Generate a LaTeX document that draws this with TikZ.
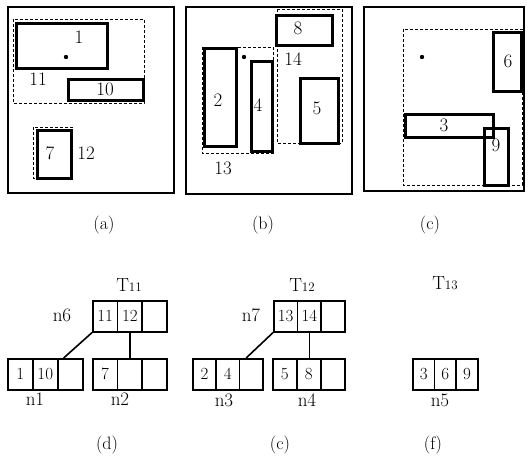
\documentclass[tikz,border=0pt]{standalone}
\usetikzlibrary{calc}
\begin{document}
\begin{tikzpicture}[x=1pt,y=-1pt,
  frame/.style={line width=2.6pt},
  obj/.style={line width=3pt},
  mbr/.style={line width=1pt,dash pattern=on 3pt off 2pt},
  lbl/.style={font=\fontsize{19}{21}\selectfont, inner sep=0pt},
  captxt/.style={font=\fontsize{18}{20}\selectfont, inner sep=0pt},
  cell/.style={draw, line width=1.6pt, minimum height=31pt, inner sep=0pt,
    font=\fontsize{17}{19}\selectfont, anchor=north west},
  conn/.style={line width=1.6pt},
  dot/.style={fill=black}]
\useasboundingbox (0,0) rectangle (528,456);

% ---------- panel (a)
\draw[frame] (8,7) rectangle (174,193);
\draw[mbr] (13,19) rectangle (144,103);
\draw[obj] (16,23) rectangle (107,68);
\draw[obj] (68,79) rectangle (143,100);
\draw[mbr] (33,127) rectangle (72,178);
\draw[obj] (37,130) rectangle (71,178);
\fill[dot] (66,57) circle (2.2pt);
\node[lbl] (l1) at (79,37) {1};
\node[lbl] (l11) at (38,79) {11};
\node[lbl] (l10) at (105,89) {10};
\node[lbl] (l7) at (50,153) {7};
\node[lbl] (l12) at (86,153) {12};
\node[captxt] (ca) at (104,225) {(a)};

% ---------- panel (b)
\draw[frame] (186,7) rectangle (352,194);
\draw[mbr] (277,9) rectangle (342,143);
\draw[mbr] (202,47) rectangle (273,153);
\draw[obj] (276,15) rectangle (332,45);
\draw[obj] (204,48) rectangle (236,146);
\draw[obj] (251,61) rectangle (272,151);
\draw[obj] (300,78) rectangle (338,143);
\fill[dot] (244,57) circle (2.2pt);
\node[lbl] (l8) at (298,28) {8};
\node[lbl] (l14) at (293,59) {14};
\node[lbl] (l2) at (218,100) {2};
\node[lbl] (l4) at (258,105) {4};
\node[lbl] (l5) at (317,108) {5};
\node[lbl] (l13) at (223,168) {13};
\node[captxt] (cb) at (263,225) {(b)};

% ---------- panel (c)
\draw[frame] (364,7) rectangle (524,191);
\draw[mbr] (403,29) rectangle (522,185);
\draw[obj] (493,32) rectangle (521,91);
\draw[obj] (405,114) rectangle (493,137);
\draw[obj] (484,128) rectangle (508,185);
\fill[dot] (422,57) circle (2.2pt);
\node[lbl] (l6) at (508,61) {6};
\node[lbl] (l3) at (444,125) {3};
\node[lbl] (l9) at (496,145) {9};
\node[captxt] (cc) at (430,225) {(c)};

% ---------- panel (d)
\node[lbl] (t11) at (129,285) {T{\fontsize{13}{15}\selectfont 11}};
\node[lbl] (ln6) at (62,315) {n6};
\node[cell, minimum width=24.7pt] (n6a) at (92,300) {11};
\node[cell, minimum width=24.7pt] (n6b) at (116.7,300) {12};
\node[cell, minimum width=24.7pt] (n6c) at (141.3,300) {};
\node[cell, minimum width=25pt] (n1a) at (7,358) {1};
\node[cell, minimum width=25pt] (n1b) at (32,358) {10};
\node[cell, minimum width=25pt] (n1c) at (57,358) {};
\node[cell, minimum width=24.7pt] (n2a) at (92,358) {7};
\node[cell, minimum width=24.7pt] (n2b) at (116.7,358) {};
\node[cell, minimum width=24.7pt] (n2c) at (141.3,358) {};
\draw[conn] (n6a.south west) -- ($(n1c.north west)!0.25!(n1c.north east)$);
\draw[conn] (n6b.south) -- (n6b.south |- n2b.north);
\node[lbl] (ln1) at (35,399) {n1};
\node[lbl] (ln2) at (120,399) {n2};
\node[captxt] (cd) at (107,445) {(d)};

% ---------- panel (e)
\node[lbl] (t12) at (302,285) {T{\fontsize{13}{15}\selectfont 12}};
\node[lbl] (ln7) at (251,315) {n7};
\node[cell, minimum width=23.7pt] (n7a) at (273,300) {13};
\node[cell, minimum width=23.7pt] (n7b) at (296.7,300) {14};
\node[cell, minimum width=23.7pt] (n7c) at (320.3,300) {};
\node[cell, minimum width=23.3pt] (n3a) at (192,358) {2};
\node[cell, minimum width=23.3pt] (n3b) at (215.3,358) {4};
\node[cell, minimum width=23.3pt] (n3c) at (238.7,358) {};
\node[cell, minimum width=24pt] (n4a) at (272,358) {5};
\node[cell, minimum width=24pt] (n4b) at (296,358) {8};
\node[cell, minimum width=24pt] (n4c) at (320,358) {};
\draw[conn] (n7a.south west) -- ($(n3c.north west)!0.3!(n3c.north east)$);
\draw[conn] (n7b.south) -- (n7b.south |- n4b.north);
\node[lbl] (ln3) at (224,400) {n3};
\node[lbl] (ln4) at (307,400) {n4};
\node[captxt] (ce) at (280,445) {(c)};

% ---------- panel (f)
\node[lbl] (t13) at (445,283) {T{\fontsize{13}{15}\selectfont 13}};
\node[cell, minimum width=21.7pt] (n5a) at (412,358) {3};
\node[cell, minimum width=21.7pt] (n5b) at (433.7,358) {6};
\node[cell, minimum width=21.7pt] (n5c) at (455.3,358) {9};
\node[lbl] (ln5) at (440,400) {n5};
\node[captxt] (cf) at (433,445) {(f)};
\end{tikzpicture}
\end{document}
